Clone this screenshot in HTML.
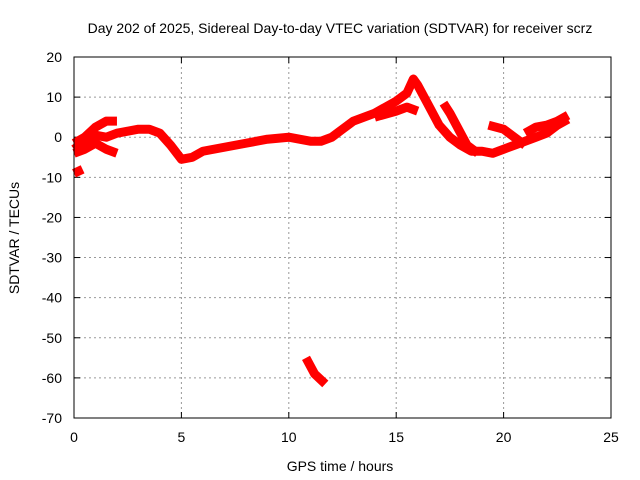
<!DOCTYPE html>
<html><head><meta charset="utf-8"><style>
body{margin:0;background:#fff}
svg{display:block;font-family:"Liberation Sans",sans-serif}
</style></head><body>
<svg id="chart" width="640" height="480">
<text x="340" y="33" font-size="14" text-anchor="middle">Day 202 of 2025, Sidereal Day-to-day VTEC variation (SDTVAR) for receiver scrz</text>
<text x="340" y="471" font-size="14" text-anchor="middle">GPS time / hours</text>
<text transform="translate(19,238) rotate(-90)" font-size="14" text-anchor="middle">SDTVAR / TECUs</text>
<g id="grid"></g><g id="marks"></g>
<rect x="74" y="57" width="537" height="361" fill="none" stroke="#000" stroke-width="1"/>
</svg>
<script>
const xTicks=[0,5,10,15,20,25];
const yTicks=[20,10,0,-10,-20,-30,-40,-50,-60,-70];
const trackMainH=[0,0.5,1,1.5,2,2.5,3,3.5,4,4.5,5,5.5,6,7,8,9,10,11,11.5,12,12.5,13,14,14.5,15,15.5,15.8,16,16.5,17,17.5,18,18.5,19,19.5,20,20.5,21,21.5,22,22.5,23];
const trackMainV=[-3,-1,0.5,0,1,1.5,2,2,1,-2,-5.5,-5,-3.5,-2.5,-1.5,-0.5,0,-1,-1,0,2,4,6,7.5,9,11,14.5,13,8,3,0,-2,-3.5,-3.5,-4,-3,-2,-1,0,1,3,4.5];
const trackBH=[0,0.5,1,1.5,2];const trackBV=[-1.5,0,2.5,4,4];
const trackCH=[0,0.5,1,1.5,2];const trackCV=[-4,-3,-1.5,-3,-4];
const trackDH=[0,0.4];const trackDV=[-9,-8];
const trackEH=[14,15,15.5,16];const trackEV=[5,6.5,7.5,6.5];
const trackFH=[17.2,17.5,18,18.3,18.8];const trackFV=[8.5,6,1,-2,-4];
const trackGH=[19.3,20,20.5,21];const trackGV=[3,2,0,-2];
const trackHH=[21,21.5,22,22.5,23];const trackHV=[1,2.5,3,4,5.5];
const trackIH=[10.8,11.2,11.7];const trackIV=[-55,-59,-61.5];
const X=h=>74+h*537/25, Y=v=>57+(20-v)*361/90;
const NS='http://www.w3.org/2000/svg';
const g=document.getElementById('grid'),m=document.getElementById('marks');
function mk(t,a,p){const e=document.createElementNS(NS,t);for(const k in a)e.setAttribute(k,a[k]);p.appendChild(e);return e;}
xTicks.forEach(t=>{const x=X(t);
 if(t>0&&t<25){const l=mk('line',{x1:x,x2:x,y1:57,y2:418,stroke:'#999','stroke-dasharray':'2,3'},g);
 
 }
 mk('line',{x1:x,x2:x,y1:418,y2:412,stroke:'#000'},g);mk('line',{x1:x,x2:x,y1:57,y2:63,stroke:'#000'},g);
 const s=mk('text',{x:x,y:442,'font-size':14,'text-anchor':'middle'},g);s.textContent=t;
 
 });
yTicks.forEach(t=>{const y=Y(t);
 if(t<20&&t>-70){const l=mk('line',{x1:74,x2:611,y1:y,y2:y,stroke:'#999','stroke-dasharray':'2,3'},g);
 
 }
 mk('line',{x1:74,x2:80,y1:y,y2:y,stroke:'#000'},g);mk('line',{x1:611,x2:605,y1:y,y2:y,stroke:'#000'},g);
 const s=mk('text',{x:62,y:y+5,'font-size':14,'text-anchor':'end'},g);s.textContent=t;
 
 });
const tracks=[[trackMainH,trackMainV],[trackBH,trackBV],[trackCH,trackCV],[trackDH,trackDV],[trackEH,trackEV],[trackFH,trackFV],[trackGH,trackGV],[trackHH,trackHV],[trackIH,trackIV]];
tracks.forEach(([h,v])=>{const pts=h.map((x,i)=>X(x)+','+Y(v[i])).join(' ');
 const p=mk('polyline',{points:pts,fill:'none',stroke:'#f00','stroke-width':9,'stroke-linejoin':'round'},m);
 
 });
</script>
</body></html>
